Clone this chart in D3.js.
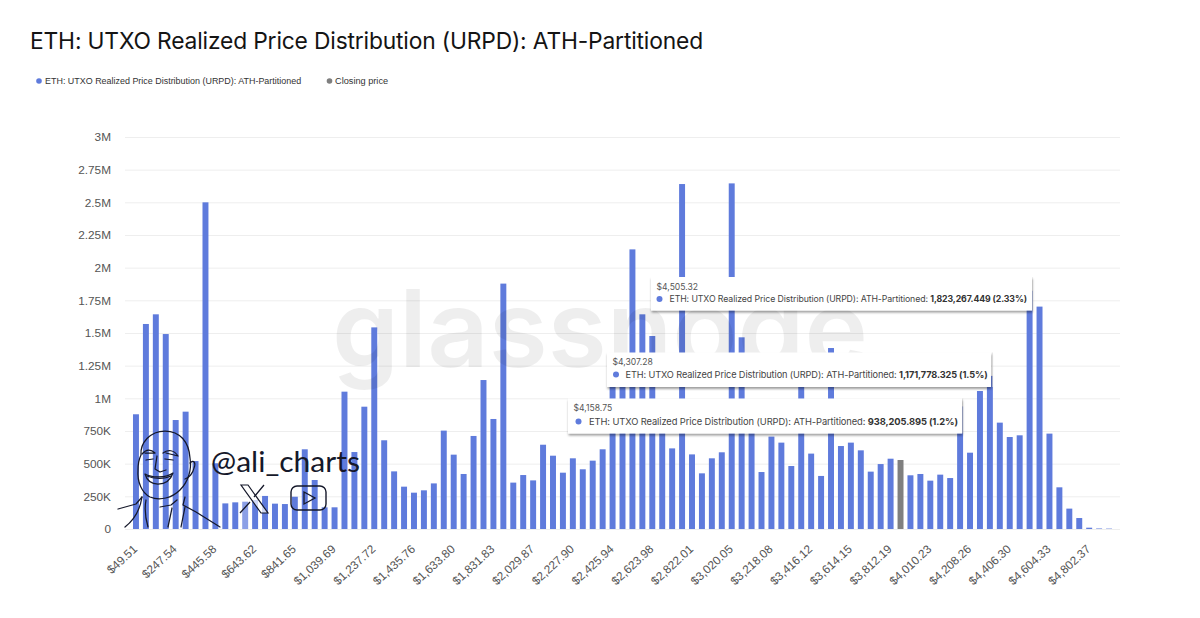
<!DOCTYPE html>
<html><head><meta charset="utf-8">
<script src="https://cdn.jsdelivr.net/npm/d3@7"></script>
<style>html,body{margin:0;background:#fff}svg{display:block}text{font-family:Inter,"Noto Sans",sans-serif}</style>
</head><body><div id="c"></div>
<script>
const chartTitle = "ETH: UTXO Realized Price Distribution (URPD): ATH-Partitioned";
const seriesName = "ETH: UTXO Realized Price Distribution (URPD): ATH-Partitioned";
const closingName = "Closing price";
const supply = [878,1569,1643,1492,834,898,520,2500,503,196,204,209,222,253,194,191,247,610,375,166,166,1051,589,936,1543,679,441,324,278,296,349,753,569,421,712,1140,842,1878,355,413,372,645,561,431,541,457,523,610,1166,1217,2140,1643,1477,834,617,2640,571,426,541,587,2645,1467,860,436,707,661,482,1166,577,406,1385,635,661,602,439,497,538,528,411,421,370,416,390,938.2,584,1056,1171.8,814,704,717,1823.3,1702,730,319,156,84,10,4,3];
const closingIndex = 77;
const fadedIndex = 11;
const tickLabels = ["$49.51","$247.54","$445.58","$643.62","$841.65","$1,039.69","$1,237.72","$1,435.76","$1,633.80","$1,831.83","$2,029.87","$2,227.90","$2,425.94","$2,623.98","$2,822.01","$3,020.05","$3,218.08","$3,416.12","$3,614.15","$3,812.19","$4,010.23","$4,208.26","$4,406.30","$4,604.33","$4,802.37"];
const tickEvery = 4;
const yTicks = [0,250,500,750,1000,1250,1500,1750,2000,2250,2500,2750,3000];
const yTickLabels = ["0","250K","500K","750K","1M","1.25M","1.5M","1.75M","2M","2.25M","2.5M","2.75M","3M"];
const tooltipIndex = [90,86,83];
const tooltipPrice = ["$4,505.32","$4,307.28","$4,158.75"];
const tooltipValue = ["1,823,267.449 (2.33%)","1,171,778.325 (1.5%)","938,205.895 (1.2%)"];
const BLUE="#5f7bdc", GREY="#7f7f7f", FADED="#8b9fe6";

const W=1200,H=618;
const svg=d3.select("#c").append("svg").attr("width",W).attr("height",H).attr("viewBox",[0,0,W,H]);
const defs=svg.append("defs");
const f=defs.append("filter").attr("id","sh").attr("x","-5%").attr("y","-30%").attr("width","110%").attr("height","170%");
f.append("feDropShadow").attr("dx",.5).attr("dy",2).attr("stdDeviation",1.3).attr("flood-color","#000").attr("flood-opacity",.38);

svg.append("text").attr("x",30).attr("y",49).attr("font-size",22.8).attr("letter-spacing",-.16).attr("fill","#141414").text(chartTitle);

// legend
const lg=svg.append("g").attr("font-size",8.95).attr("fill","#333");
lg.append("circle").attr("cx",39).attr("cy",81).attr("r",2.8).attr("fill",BLUE);
lg.append("text").attr("x",45).attr("y",84.3).style("font-family","Liberation Sans").text(seriesName);
lg.append("circle").attr("cx",329.5).attr("cy",81).attr("r",2.8).attr("fill",GREY);
lg.append("text").attr("x",335).attr("y",84.3).style("font-family","Liberation Sans").attr("font-size",9.2).text(closingName);

const x=d3.scaleBand().domain(d3.range(supply.length)).range([131,1114]).paddingInner(.4).paddingOuter(.2);
const y=d3.scaleLinear().domain([0,3000]).range([529,137]);

// grid
svg.append("g").selectAll("line").data(yTicks).join("line")
  .attr("x1",125).attr("x2",1120).attr("y1",d=>y(d)+.5).attr("y2",d=>y(d)+.5)
  .attr("stroke","#eeeeee").attr("stroke-width",1);

// y axis
const yAxis=d3.axisLeft(y).tickValues(yTicks).tickSize(0).tickPadding(0).tickFormat((d,i)=>yTickLabels[i]);
const yg=svg.append("g").attr("transform","translate(111,0)").call(yAxis);
yg.select(".domain").remove();
yg.selectAll("text").attr("font-size",11.8).attr("fill","#555").style("font-family","Liberation Sans");

// bars
svg.append("g").selectAll("rect").data(supply).join("rect")
  .attr("x",(d,i)=>x(i)).attr("width",x.bandwidth())
  .attr("y",d=>y(d)).attr("height",d=>y(0)-y(d))
  .attr("fill",(d,i)=>i===closingIndex?GREY:i===fadedIndex?FADED:BLUE);

// x axis
const xAxis=d3.axisBottom(x).tickValues(tickLabels.map((t,i)=>i*tickEvery)).tickSize(0).tickPadding(0).tickFormat((d,i)=>tickLabels[i]);
const xg=svg.append("g").attr("transform","translate(0,529)").call(xAxis);
xg.select(".domain").remove();
xg.selectAll("text").attr("font-size",11.8).attr("fill","#555").style("font-family","Liberation Sans")
  .attr("text-anchor","end").attr("dy",0).attr("y",0)
  .attr("transform","translate(2,21) rotate(-43)");

// watermark
svg.append("text").attr("x",332).attr("y",367).attr("font-size",107).attr("font-weight",600)
  .attr("fill","#000").attr("fill-opacity",.065).attr("textLength",536).attr("lengthAdjust","spacingAndGlyphs")
  .style("font-family","Inter").text("glassnode");

// tooltips (the three boxes in the screenshot are not the same scale)
const boxLeft=[651,607,568], boxTop=[277,352.5,398.5], boxWidth=[381,384,394], boxHeight=[33.5,34.5,35], textSize=[8.75,9.18,9.36], dotX=[8.5,9,10.5], textX=[18.5,18.5,21], rowY=[25.3,25.3,26.2];
tooltipIndex.forEach((idx,k)=>{
  const cx=x(idx)+x.bandwidth()/2+2.5;
  const L=boxLeft[k],T=boxTop[k],bh=boxHeight[k];
  svg.append("line").attr("x1",cx).attr("x2",cx).attr("y1",T).attr("y2",T+bh).attr("stroke","#ddd").attr("stroke-width",.7);
  const g=svg.append("g").attr("transform",`translate(${L},${T})`);
  g.append("rect").attr("width",boxWidth[k]).attr("height",bh).attr("fill","#fff").attr("filter","url(#sh)");
  g.append("text").attr("x",5.5).attr("y",12.5).attr("font-size",8.6).attr("fill","#555").text(tooltipPrice[k]);
  g.append("circle").attr("cx",dotX[k]).attr("cy",rowY[k]-3.3).attr("r",3).attr("fill",BLUE);
  const tt=g.append("text").attr("x",textX[k]).attr("y",rowY[k]).attr("font-size",textSize[k]).attr("letter-spacing",-.1).attr("fill","#444");
  tt.append("tspan").text(seriesName+": ");
  tt.append("tspan").attr("font-weight",700).attr("fill","#333").text(tooltipValue[k]);
});

// signature doodle
const d=svg.append("g").attr("fill","none").attr("stroke","#15182a").attr("stroke-width",1.25).attr("stroke-linecap","round").attr("stroke-linejoin","round");
[
 "M141 455C140 443 150 431 165 431C180 431 189 442 190 458C192 470 188 482 180 490C172 498 160 501 150 497C142 493 137 482 138 470C138 465 139 459 141 455Z",
 "M190 463C194 459 196 463 194 468C193 473 189 478 185 479",
 "M142 454C146 449 151 449 155 453L145 453M163 453C168 449 174 450 178 456L166 453",
 "M146 460L153 459M165 459L173 460",
 "M157 456L155 469L160 472L166 470",
 "M145 474C152 478 166 478 173 473C170 482 163 484 158 484C152 484 147 481 145 474Z",
 "M147 476C154 479 165 479 171 476",
 "M118 509L136 504L142 497",
 "M142 497C140 510 134 520 125 527M146 500C144 510 146 520 148 527",
 "M185 497L183 505L196 512L220 527",
 "M160 507L171 505L177 500M172 508L168 527M185 507L181 527"
].forEach(p=>d.append("path").attr("d",p));
svg.append("text").attr("x",211).attr("y",472).attr("font-size",28).attr("fill","#15182a").style("font-family","Lato").attr("textLength",149).attr("lengthAdjust","spacingAndGlyphs").text("@ali_charts");
// X icon
svg.append("path").attr("fill","#fff").attr("fill-opacity",.7).attr("stroke","#15182a").attr("stroke-width",1.2).attr("d","M241 485H248L268 513H261Z");
svg.append("path").attr("fill","none").attr("stroke","#15182a").attr("stroke-width",1.3).attr("d","M264 485L254 497M250 502L240 513");
// YouTube icon
svg.append("rect").attr("x",291).attr("y",486).attr("width",35).attr("height",24).attr("rx",6).attr("fill","none").attr("stroke","#15182a").attr("stroke-width",1.4);
svg.append("path").attr("d","M304 492L315 498L304 504Z").attr("fill","none").attr("stroke","#15182a").attr("stroke-width",1.3);
</script></body></html>
